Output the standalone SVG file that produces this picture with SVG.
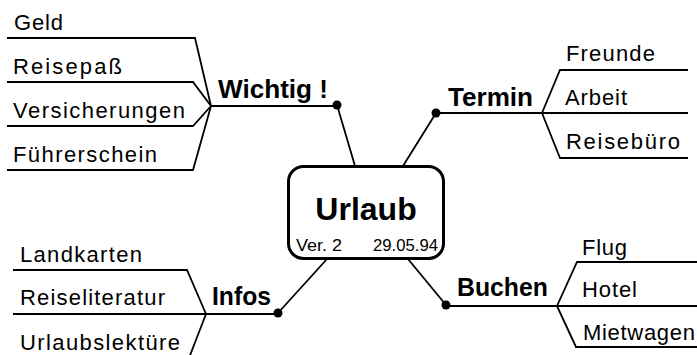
<svg xmlns="http://www.w3.org/2000/svg" width="697" height="355" viewBox="0 0 697 355">
<style>
.leaf{font-family:"Liberation Sans",Arial,sans-serif;font-size:22px;fill:#000}
.topic{font-family:"Liberation Sans",Arial,sans-serif;font-size:25px;font-weight:bold;fill:#000}
.small{font-family:"Liberation Sans",Arial,sans-serif;font-size:17px;fill:#000}
.main{font-family:"Liberation Sans",Arial,sans-serif;font-size:32px;font-weight:bold;fill:#000}
.ln{fill:none;stroke:#000;stroke-width:1.8;stroke-linejoin:miter}
.dot{fill:#000}
</style>
<rect width="697" height="355" fill="#fff"/>
<g id="connectors">
  <path class="ln" d="M7,38 H195 L211,106 M7,82 H193 L211,106 M7,126 H193 L211,106 M7,170 H193 L211,106 M211,106 H337 M337,105 L355,166"/>
  <path class="ln" d="M403,166 L436,113 M436,113 H542 M542,113 L560,70 H688 M542,113 H688 M542,113 L560,158 H688"/>
  <path class="ln" d="M13,270 H187 L206,314 M13,314 H278 M206,314 L189,358 M278,313 L327,259"/>
  <path class="ln" d="M408,259 L446,305 M446,306 H557 M557,306 L577,262 H697 M557,306 H697 M557,306 L576,347 H697"/>
</g>
<g id="center">
  <rect x="288.5" y="166.5" width="155" height="92" rx="15" ry="15" fill="#fff" stroke="#000" stroke-width="3"/>
  <text class="main" x="366" y="220" text-anchor="middle">Urlaub</text>
  <text class="small" x="296" y="251" textLength="46" lengthAdjust="spacingAndGlyphs">Ver. 2</text>
  <text class="small" x="373" y="251" textLength="65" lengthAdjust="spacingAndGlyphs">29.05.94</text>
</g>
<g id="wichtig">
  <text class="topic" x="218" y="98" textLength="110" lengthAdjust="spacingAndGlyphs">Wichtig !</text>
  <circle class="dot" cx="337" cy="105" r="4.5"/>
</g>
<g id="geld"><text class="leaf" x="14" y="30" textLength="49">Geld</text></g>
<g id="reisepass"><text class="leaf" x="13" y="74" textLength="109">Reisepaß</text></g>
<g id="versicherungen"><text class="leaf" x="13" y="118" textLength="172">Versicherungen</text></g>
<g id="fuehrerschein"><text class="leaf" x="13" y="162" textLength="144">Führerschein</text></g>
<g id="termin">
  <text class="topic" x="448" y="106" textLength="85" lengthAdjust="spacingAndGlyphs">Termin</text>
  <circle class="dot" cx="436" cy="113" r="4.5"/>
</g>
<g id="freunde"><text class="leaf" x="566" y="61" textLength="89">Freunde</text></g>
<g id="arbeit"><text class="leaf" x="565" y="105" textLength="62">Arbeit</text></g>
<g id="reisebuero"><text class="leaf" x="566" y="149" textLength="114">Reisebüro</text></g>
<g id="infos">
  <text class="topic" x="212" y="305" textLength="59" lengthAdjust="spacingAndGlyphs">Infos</text>
  <circle class="dot" cx="278" cy="313" r="4.5"/>
</g>
<g id="landkarten"><text class="leaf" x="20" y="262" textLength="122">Landkarten</text></g>
<g id="reiseliteratur"><text class="leaf" x="20" y="305" textLength="145">Reiseliteratur</text></g>
<g id="urlaubslektuere"><text class="leaf" x="20" y="350" textLength="160">Urlaubslektüre</text></g>
<g id="buchen">
  <text class="topic" x="457" y="296" textLength="91" lengthAdjust="spacingAndGlyphs">Buchen</text>
  <circle class="dot" cx="446" cy="305" r="4.5"/>
</g>
<g id="flug"><text class="leaf" x="582" y="255" textLength="45">Flug</text></g>
<g id="hotel"><text class="leaf" x="582" y="297" textLength="55">Hotel</text></g>
<g id="mietwagen"><text class="leaf" x="583" y="340" textLength="112">Mietwagen</text></g>
</svg>
